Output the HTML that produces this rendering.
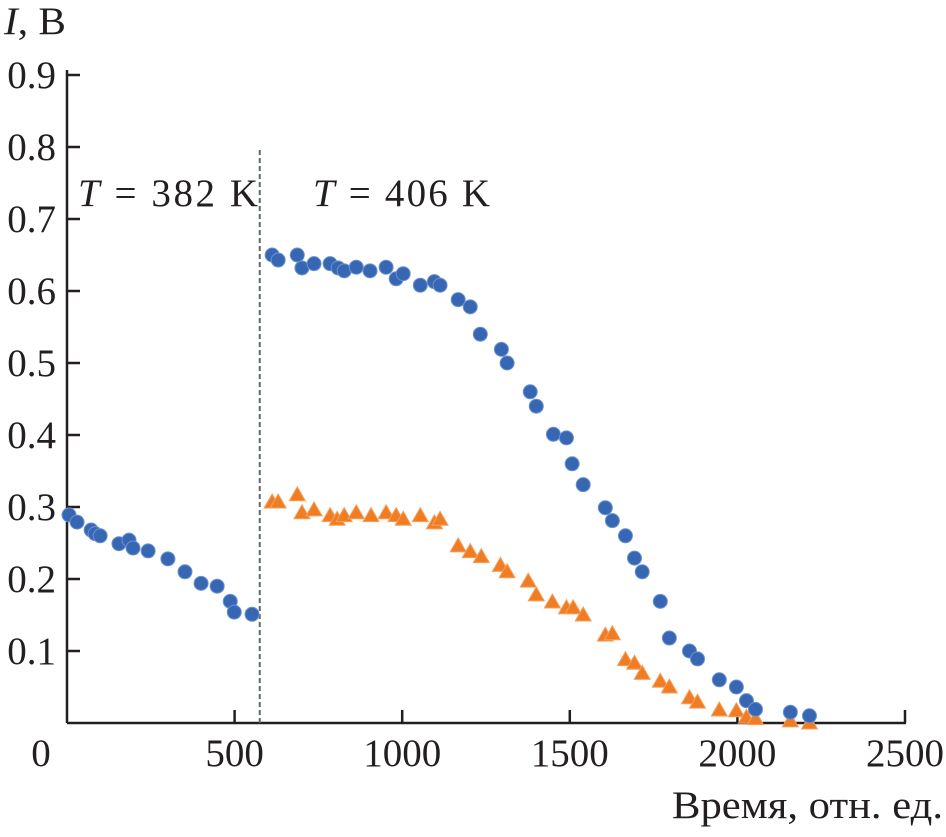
<!DOCTYPE html>
<html><head><meta charset="utf-8"><style>
html,body{margin:0;padding:0;background:#fff;}
svg text{font-family:"Liberation Serif",serif;fill:#231f20;}
</style></head><body>
<svg id="chart" width="946" height="832" viewBox="0 0 946 832" xmlns="http://www.w3.org/2000/svg">
<g id="axes"></g><g id="marks"></g>
</svg>
<script>
const xTicks=[0,500,1000,1500,2000,2500];
const yTicks=[0.1,0.2,0.3,0.4,0.5,0.6,0.7,0.8,0.9];
const yTickLabels=["0.1","0.2","0.3","0.4","0.5","0.6","0.7","0.8","0.9"];
const blueX=[6,30,72,84,99,155,185,197,242,301,352,400,448,487,499,552,
612,630,687,701,737,785,809,827,863,904,952,982,1003,1054,1096,1113,1167,1203,1233,1296,1313,1382,1400,1451,1490,1507,1540,1606,1627,1666,1693,1716,1770,1797,1857,1881,1946,1997,2027,2054,2158,2215];
const blueY=[0.289,0.279,0.268,0.263,0.260,0.249,0.254,0.243,0.239,0.228,0.210,0.194,0.190,0.169,0.154,0.151,
0.650,0.643,0.650,0.632,0.638,0.638,0.632,0.628,0.633,0.628,0.633,0.617,0.624,0.608,0.613,0.608,0.588,0.578,0.540,0.519,0.500,0.460,0.440,0.401,0.396,0.360,0.331,0.299,0.281,0.260,0.229,0.210,0.169,0.118,0.100,0.089,0.060,0.050,0.031,0.019,0.015,0.010];
const orangeX=[612,630,687,701,737,785,806,827,863,907,952,982,1003,1054,1096,1113,1167,1203,1236,1293,1313,1376,1400,1448,1490,1510,1540,1606,1627,1666,1693,1716,1770,1797,1857,1881,1946,1997,2027,2054,2158,2215];
const orangeY=[0.307,0.307,0.317,0.292,0.296,0.288,0.283,0.288,0.292,0.288,0.292,0.288,0.283,0.288,0.278,0.283,0.246,0.238,0.231,0.219,0.210,0.197,0.178,0.168,0.160,0.160,0.150,0.122,0.124,0.088,0.083,0.069,0.058,0.050,0.035,0.029,0.018,0.017,0.008,0.006,0.003,0.000];
const dividerX=575;

const NS="http://www.w3.org/2000/svg";
const X0=67,XS=0.3352,Y0=723,YS=720;
const sx=v=>X0+v*XS, sy=v=>Y0-v*YS;
function mk(tag,attrs,parent,txt){const e=document.createElementNS(NS,tag);for(const k in attrs)e.setAttribute(k,attrs[k]);if(txt!==undefined)e.textContent=txt;parent.appendChild(e);return e;}
const ax=document.getElementById('axes'), mg=document.getElementById('marks');
let e;
e=mk('line',{x1:X0,y1:70,x2:X0,y2:Y0,stroke:'#231f20','stroke-width':2.5},ax);


e=mk('line',{x1:X0,y1:Y0,x2:sx(2500)+1,y2:Y0,stroke:'#231f20','stroke-width':2.5},ax);


yTicks.forEach((t,i)=>{
 e=mk('line',{x1:X0,y1:sy(t),x2:X0+13,y2:sy(t),stroke:'#231f20','stroke-width':2.5},ax);
 
 
 e=mk('text',{x:56,y:sy(t)+13,'text-anchor':'end','font-size':39},ax,yTickLabels[i]);
 
 
});
xTicks.forEach(t=>{
 if(t>0){e=mk('line',{x1:sx(t),y1:Y0,x2:sx(t),y2:Y0-13,stroke:'#231f20','stroke-width':2.5},ax);
 
 }
 e=mk('text',{x:t===0?41:sx(t),y:766,'text-anchor':'middle','font-size':39},ax,String(t));
 
 
});
e=mk('text',{x:672,y:818,'font-size':39,textLength:271,lengthAdjust:'spacingAndGlyphs'},ax,'Время, отн. ед.');


e=mk('text',{x:4,y:34,'font-size':39,textLength:62,lengthAdjust:'spacingAndGlyphs'},ax);


e.innerHTML='<tspan font-style="italic">I</tspan>, В';
e=mk('line',{x1:sx(dividerX),y1:150,x2:sx(dividerX),y2:Y0,stroke:'#5a6a6e','stroke-width':2,'stroke-dasharray':'5,3'},ax);


e=mk('text',{x:78,y:206,'font-size':39,textLength:180,lengthAdjust:'spacing'},ax);


e.innerHTML='<tspan font-style="italic">T</tspan> = 382 K';
e=mk('text',{x:313,y:206,'font-size':39,textLength:177,lengthAdjust:'spacing'},ax);


e.innerHTML='<tspan font-style="italic">T</tspan> = 406 K';
orangeX.forEach((v,i)=>{
 const cx=sx(v), cy=sy(orangeY[i]);
 e=mk('polygon',{points:`${cx-8},${cy+6} ${cx+8},${cy+6} ${cx},${cy-8}`,fill:'#f07d22',stroke:'#f5a060','stroke-width':1},mg);
 
 
});
blueX.forEach((v,i)=>{
 e=mk('circle',{cx:sx(v),cy:sy(blueY[i]),r:7,fill:'#3766b3',stroke:'#6a92cf','stroke-width':1},mg);
 
 
});
</script>
</body></html>
